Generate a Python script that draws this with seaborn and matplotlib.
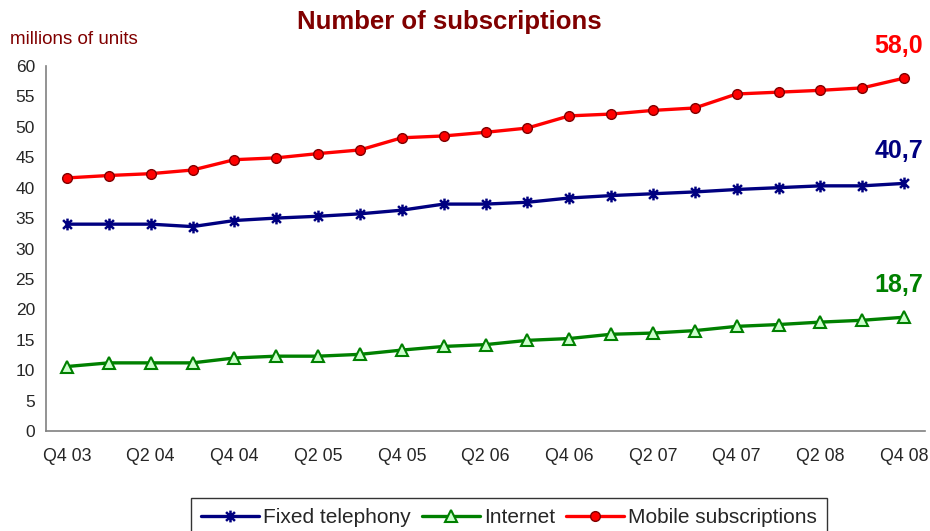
import matplotlib
matplotlib.use("Agg")
import matplotlib.pyplot as plt
from matplotlib.path import Path
import seaborn as sns
import pandas as pd
import numpy as np

quarters = ["Q4 03", "Q1 04", "Q2 04", "Q3 04", "Q4 04", "Q1 05", "Q2 05", "Q3 05",
            "Q4 05", "Q1 06", "Q2 06", "Q3 06", "Q4 06", "Q1 07", "Q2 07", "Q3 07",
            "Q4 07", "Q1 08", "Q2 08", "Q3 08", "Q4 08"]
fixed = [34.0, 34.0, 34.0, 33.6, 34.6, 35.0, 35.3, 35.7, 36.3, 37.3, 37.3, 37.6,
         38.3, 38.7, 39.0, 39.3, 39.7, 40.0, 40.3, 40.3, 40.7]
internet = [10.6, 11.2, 11.2, 11.2, 12.0, 12.3, 12.3, 12.6, 13.3, 13.9, 14.2, 14.9,
            15.2, 15.9, 16.1, 16.5, 17.2, 17.5, 17.9, 18.2, 18.7]
mobile = [41.6, 42.0, 42.3, 42.9, 44.6, 44.9, 45.6, 46.2, 48.2, 48.5, 49.1, 49.8,
          51.8, 52.1, 52.7, 53.1, 55.4, 55.7, 56.0, 56.4, 58.0]
series_names = ["Fixed telephony", "Internet", "Mobile subscriptions"]
end_labels = ["40,7", "18,7", "58,0"]

sns.set_theme(style="white")
plt.rcParams['font.family'] = ['Liberation Sans', 'DejaVu Sans']

fig = plt.figure(figsize=(9.30, 5.31), dpi=100)
ax = fig.add_axes([46/930, 1 - 431/531, (925-46)/930, (431-66)/531])

x = np.arange(len(quarters))
df = pd.DataFrame({"x": x, "Fixed telephony": fixed, "Internet": internet,
                   "Mobile subscriptions": mobile})

d = 0.75
asterisk = Path([(0, -1), (0, 1), (-d, -d), (d, d), (-d, d), (d, -d)],
                [Path.MOVETO, Path.LINETO, Path.MOVETO, Path.LINETO, Path.MOVETO, Path.LINETO])

styles = {
    "Fixed telephony": dict(color="#000080", marker=asterisk, markersize=8.5,
                            markeredgecolor="#000080", markeredgewidth=1.8),
    "Internet": dict(color="#008000", marker="^", markersize=8,
                     markerfacecolor="#CCFFCC", markeredgecolor="#008000", markeredgewidth=1.5),
    "Mobile subscriptions": dict(color="#FF0000", marker="o", markersize=7,
                                 markerfacecolor="#FF0000", markeredgecolor="#800000",
                                 markeredgewidth=1.0),
}
label_colors = {"Fixed telephony": "#000080", "Internet": "#008000",
                "Mobile subscriptions": "#FF0000"}

for name, lab in zip(series_names, end_labels):
    sns.lineplot(data=df, x="x", y=name, ax=ax, label=name, linewidth=2.4, **styles[name])
    ax.annotate(lab, xy=(x[-1], df[name].iloc[-1]), xytext=(-4, 23),
                textcoords="offset points", ha="center", va="center",
                fontsize=18, fontweight="bold", color=label_colors[name])

ax.set_xlim(-0.5, len(quarters) - 0.5)
ax.set_ylim(0, 60)
ax.set_yticks(np.arange(0, 61, 5))
ax.set_xticks(np.arange(-0.5, len(quarters), 1))
ax.set_xticklabels([])
ax.set_xticks(x[::2], minor=True)
ax.set_xticklabels(quarters[::2], minor=True)
ax.tick_params(axis="x", which="major", length=5, width=1, color="#808080", direction="out")
ax.tick_params(axis="x", which="minor", length=0, pad=12, labelsize=12.8)
ax.tick_params(axis="y", length=5, width=1, color="#808080", direction="out", labelsize=12.5, pad=3)
ax.set_xlabel("")
ax.set_ylabel("")
for s in ["top", "right"]:
    ax.spines[s].set_visible(False)
for s in ["left", "bottom"]:
    ax.spines[s].set_color("#808080")
    ax.spines[s].set_linewidth(1.2)

ax.get_legend().remove()
handles, labels = ax.get_legend_handles_labels()
leg = fig.legend(handles, labels, loc="upper center", bbox_to_anchor=(509/930, 1 - 498/531),
                 ncol=3, fontsize=15, frameon=True, fancybox=False, handlelength=2.8,
                 handletextpad=0.2, columnspacing=0.5, borderpad=0.5, borderaxespad=0)
leg.get_frame().set_edgecolor("black")
leg.get_frame().set_linewidth(1.0)

fig.text(449/930, 1 - 22/531, "Number of subscriptions", ha="center", va="center",
         fontsize=18.5, fontweight="bold", color="#800000")
fig.text(10/930, 1 - 40/531, "millions of units", ha="left", va="center",
         fontsize=13.5, color="#800000")

fig.savefig("out.png", dpi=100)
